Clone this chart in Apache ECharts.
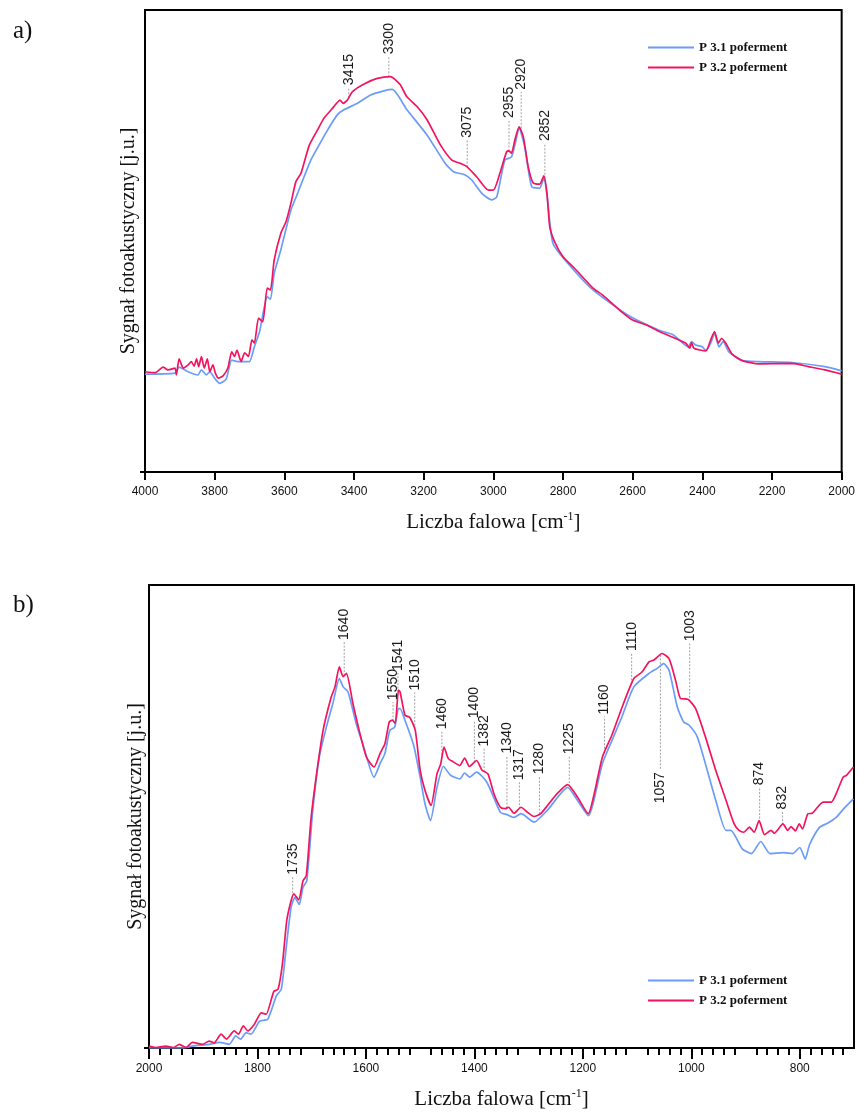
<!DOCTYPE html>
<html>
<head>
<meta charset="utf-8">
<title>Widma fotoakustyczne P 3.1 / P 3.2 poferment</title>
<script src="https://cdn.jsdelivr.net/npm/echarts@6/dist/echarts.min.js"></script>
<style>
  html, body { margin: 0; padding: 0; background: #fff; }
  #chart { width: 858px; height: 1113px; }
</style>
</head>
<body>
<div id="chart"></div>
<script>
// ---- series names ----
const seriesNames = ['P 3.1 poferment', 'P 3.2 poferment'];

// ---- panel a): 4000-2000 cm-1 ----
const topWn31 = [4000,3914,3902,3876,3848,3838,3824,3814,3800,3786,3767,3751,3734,3714,3700,3686,3671,3649,3640,3629,3610,3581,3562,3524,3500,3476,3448,3429,3390,3352,3314,3290,3248,3190,3138,3114,3081,3062,3033,3005,2990,2967,2948,2938,2926,2910,2890,2867,2855,2846,2829,2790,2714,2614,2524,2484,2440,2431,2419,2400,2390,2376,2365,2352,2340,2324,2286,2238,2143,2048,2000];
const topVal31 = [21.2,21.4,22.7,21.7,21.0,22.1,21.0,21.7,20.3,19.2,20.1,24.2,23.9,23.9,23.9,27.1,30.4,37.9,37.4,43.0,48.1,56.7,60.3,67.5,70.8,74.0,77.3,78.4,79.8,81.6,82.5,82.8,78.4,72.9,66.8,65.0,64.3,63.2,60.3,58.9,59.6,67.5,68.2,70.8,74.4,70.4,61.8,61.4,63.6,60.0,49.5,45.5,39.4,34.0,30.7,29.7,27.1,28.2,27.5,27.1,26.3,27.9,30.0,27.1,28.2,26.0,24.2,23.9,23.7,22.8,21.9];

const topWn32 = [4000,3971,3948,3934,3914,3910,3902,3890,3876,3867,3859,3852,3846,3838,3830,3821,3814,3805,3798,3789,3776,3762,3751,3743,3736,3724,3714,3703,3693,3686,3674,3662,3649,3640,3629,3610,3595,3581,3567,3552,3529,3505,3486,3462,3440,3431,3419,3405,3371,3333,3295,3286,3267,3248,3219,3190,3152,3119,3095,3076,3048,3014,3000,2981,2962,2955,2948,2938,2926,2914,2900,2886,2867,2855,2846,2838,2824,2800,2767,2714,2686,2629,2600,2560,2524,2448,2436,2431,2424,2390,2376,2365,2354,2345,2333,2314,2286,2238,2143,2095,2048,2000];
const topVal32 = [21.7,21.5,22.7,22.1,22.5,21.0,24.5,22.5,23.2,23.9,22.9,24.5,22.8,25.0,22.5,24.5,21.7,23.2,21.4,20.3,20.8,22.5,26.0,25.0,26.4,23.9,25.8,25.0,28.6,27.9,33.3,32.5,39.8,39.4,45.9,51.7,54.2,58.2,62.8,64.7,70.6,74.0,76.6,78.7,80.5,79.8,80.5,82.3,84.0,85.2,85.6,85.2,83.8,81.2,79.1,76.2,70.8,67.5,66.8,66.1,63.9,61.0,61.0,64.7,69.3,69.5,69.0,71.9,74.7,72.6,66.1,62.6,62.3,64.1,60.3,53.1,49.8,46.6,44.1,39.8,38.3,34.5,32.9,31.8,30.4,27.9,26.8,28.0,26.8,26.2,28.6,30.4,27.9,28.9,27.9,25.5,24.1,23.4,23.5,22.8,22.1,21.2];

// peak labels of panel a) and the height where each label sits
const topPeaks = [3415, 3300, 3075, 2955, 2920, 2852];
const topPeakLabelAt = [83.3, 90.0, 71.9, 76.2, 82.3, 71.2];

// ---- panel b): 2000-700 cm-1 ----
const botWn31 = [2000,1938,1920,1889,1870,1852,1840,1831,1821,1812,1796,1781,1765,1756,1747,1738,1731,1723,1716,1709,1698,1686,1673,1661,1649,1642,1633,1618,1605,1585,1574,1565,1556,1547,1540,1537,1528,1512,1500,1491,1481,1469,1457,1444,1427,1418,1409,1396,1377,1352,1340,1327,1314,1290,1265,1228,1210,1190,1164,1146,1128,1106,1078,1063,1051,1041,1026,1014,1004,989,974,955,936,927,906,889,872,855,830,813,800,790,782,764,748,733,718,701];
const botVal31 = [0.0,0.0,0.4,0.8,1.2,0.8,2.6,1.9,3.3,3.0,5.8,6.2,11.3,12.7,21.7,30.4,32.5,31.0,34.7,36.1,51.3,62.8,69.3,74.4,79.8,78.0,76.9,70.1,65.4,58.5,61.4,63.6,68.6,69.3,73.3,73.3,70.8,65.4,58.5,52.7,49.1,56.3,60.8,58.9,58.1,59.4,58.5,59.6,57.4,50.9,50.4,49.8,50.6,48.8,51.4,56.3,53.5,50.2,61.4,66.5,71.5,78.0,80.9,82.0,83.0,81.6,73.7,70.4,69.7,67.2,61.4,53.5,47.0,47.0,43.0,42.0,44.6,42.0,42.2,42.0,43.3,40.8,43.9,47.6,48.6,49.8,51.8,53.8];

const botWn32 = [2000,1988,1969,1955,1944,1932,1920,1901,1889,1880,1867,1857,1843,1835,1826,1818,1806,1793,1784,1770,1762,1754,1746,1738,1733,1724,1716,1710,1701,1691,1679,1664,1657,1649,1642,1636,1624,1611,1599,1585,1574,1565,1557,1551,1546,1540,1537,1528,1519,1509,1500,1491,1480,1469,1462,1456,1448,1439,1427,1418,1409,1396,1386,1375,1364,1352,1343,1337,1327,1314,1302,1290,1278,1265,1247,1228,1210,1190,1179,1164,1146,1128,1106,1091,1078,1069,1054,1041,1029,1020,1006,992,974,955,936,921,912,903,893,884,875,865,853,847,831,822,816,808,801,795,785,777,757,742,733,720,714,701];
const botVal32 = [0.4,0.1,0.4,0.1,0.8,0.1,1.2,0.8,1.5,1.1,3.0,1.9,3.7,3.0,4.8,3.7,5.1,7.6,7.3,12.2,12.7,18.1,27.5,31.8,33.3,32.0,36.1,37.2,49.8,59.2,68.6,75.8,78.0,82.3,80.2,80.9,74.4,67.9,62.8,60.7,63.6,65.7,70.4,70.8,70.1,77.3,76.9,71.9,71.4,68.6,60.0,55.6,52.4,59.2,61.4,65.0,62.5,61.8,61.0,62.6,60.8,62.1,60.0,59.2,54.9,52.0,51.7,52.0,50.7,52.0,50.9,50.0,50.6,52.4,55.0,56.9,54.2,50.6,54.9,62.8,67.7,73.5,79.8,81.2,83.4,83.8,85.2,84.1,79.4,75.5,75.3,73.3,67.2,60.0,53.5,48.4,47.0,46.6,47.7,46.6,49.1,46.1,47.0,46.4,48.4,47.0,47.8,46.9,48.4,47.3,50.6,50.7,53.1,53.1,54.9,58.5,58.9,60.7];

// peak labels of panel b) and the height where each label sits (1057 sits below the band)
const botPeaks = [1735, 1640, 1550, 1541, 1510, 1460, 1400, 1382, 1340, 1317, 1280, 1225, 1160, 1110, 1057, 1003, 874, 832];
const botPeakLabelAt = [37.0, 87.7, 74.7, 81.0, 76.8, 68.4, 70.8, 64.7, 63.2, 57.4, 58.7, 63.0, 71.6, 85.3, 60.0, 87.4, 56.3, 51.1];

// ---- tick labels ----
const topTicks = [4000, 3800, 3600, 3400, 3200, 3000, 2800, 2600, 2400, 2200, 2000];
const botTicks = [2000, 1800, 1600, 1400, 1200, 1000, 800];

// ---------------------------------------------------------------
const COLOR_31 = '#6b9cfa';
const COLOR_32 = '#f2155e';
const SERIF = '"Liberation Serif", "Times New Roman", serif';
const SANS = '"Liberation Sans", Arial, sans-serif';

const pairs = (xs, ys) => xs.map((x, i) => [x, ys[i]]);

// value of a spectrum at a wavenumber (used to end a peak marker on the curve)
function valueAt(xs, ys, w) {
  for (let i = 0; i < xs.length - 1; i++) {
    const a = xs[i], b = xs[i + 1];
    if ((w <= a && w >= b) || (w >= a && w <= b)) {
      const t = (w - a) / (b - a);
      return ys[i] + t * (ys[i + 1] - ys[i]);
    }
  }
  return ys[ys.length - 1];
}

function peakData(peaks, labelAt, xs, ys) {
  return peaks.map((w, i) => [w, labelAt[i], valueAt(xs, ys, w)]);
}

function renderPeak(params, api) {
  const w = api.value(0);
  const lab = api.value(1);
  const tip = api.value(2);
  const pLab = api.coord([w, lab]);
  const pTip = api.coord([w, tip]);
  const above = lab > tip;
  return {
    type: 'group',
    children: [
      {
        type: 'line',
        shape: { x1: pTip[0], y1: pTip[1], x2: pLab[0], y2: pLab[1] },
        style: { stroke: '#a0a0a0', lineWidth: 1, lineDash: [2, 1.5] }
      },
      {
        type: 'text',
        x: pLab[0],
        y: pLab[1] + (above ? -2 : 2),
        rotation: Math.PI / 2,
        style: {
          text: String(w),
          font: '14px ' + SANS,
          fill: '#1a1a1a',
          align: above ? 'left' : 'right',
          verticalAlign: 'middle'
        }
      }
    ]
  };
}

function xAxisFor(gridIndex, min, max, ticks, minor) {
  return {
    type: 'value',
    gridIndex: gridIndex,
    inverse: true,
    min: min,
    max: max,
    interval: 200,
    name: 'Liczba falowa [cm{sup|-1}]',
    nameLocation: 'middle',
    nameGap: gridIndex === 0 ? 39 : 40,
    nameTextStyle: {
      fontFamily: SERIF, fontSize: 21, color: '#111',
      rich: { sup: { fontFamily: SERIF, fontSize: 12, color: '#111', verticalAlign: 'top', padding: [0, 0, 10, 0] } }
    },
    axisLine: { show: true, lineStyle: { color: '#000', width: 2 } },
    axisTick: { show: true, inside: false, length: minor ? 11 : 8, lineStyle: { color: '#000', width: 2 },
                customValues: ticks },
    minorTick: { show: minor, splitNumber: 10, length: 7, lineStyle: { color: '#000', width: 2 } },
    axisLabel: { show: true, margin: minor ? 15 : 14, fontFamily: SANS, fontSize: 12, color: '#111',
                 customValues: ticks, formatter: v => String(v) },
    splitLine: { show: false }
  };
}

function yAxisFor(gridIndex, gap) {
  return {
    type: 'value',
    gridIndex: gridIndex,
    min: 0,
    max: 100,
    name: 'Sygnał fotoakustyczny [j.u.]',
    nameLocation: 'middle',
    nameGap: gap,
    nameRotate: 90,
    nameTextStyle: { fontFamily: SERIF, fontSize: 20, color: '#111' },
    axisLine: { show: true, lineStyle: { color: '#000', width: 2 } },
    axisTick: { show: true, length: 5, lineStyle: { color: '#000', width: 2 }, customValues: [0] },
    axisLabel: { show: false },
    splitLine: { show: false }
  };
}

function lineSeries(name, data, color, axisIndex) {
  return {
    type: 'line',
    name: name,
    xAxisIndex: axisIndex,
    yAxisIndex: axisIndex,
    data: data,
    showSymbol: false,
    smooth: 0.2,
    lineStyle: { color: color, width: 1.7 },
    itemStyle: { color: color },
    emphasis: { disabled: true },
    z: 3
  };
}

function legendFor(top) {
  return {
    data: seriesNames,
    orient: 'vertical',
    left: 643,
    top: top,
    icon: 'rect',
    itemWidth: 46,
    itemHeight: 2,
    itemGap: 7,
    textStyle: { fontFamily: SERIF, fontSize: 13, fontWeight: 'bold', color: '#111' },
    selectedMode: false
  };
}

const chart = echarts.init(document.getElementById('chart'), null, { renderer: 'canvas' });

chart.setOption({
  animation: false,
  backgroundColor: '#fff',
  title: [
    { text: 'a)', left: 8, top: 14, textStyle: { fontFamily: SERIF, fontSize: 25, fontWeight: 'normal', color: '#111' } },
    { text: 'b)', left: 8, top: 588, textStyle: { fontFamily: SERIF, fontSize: 25, fontWeight: 'normal', color: '#111' } }
  ],
  legend: [legendFor(36), legendFor(969)],
  grid: [
    { left: 145, top: 10, width: 702, height: 462, show: true, borderColor: '#000', borderWidth: 2, backgroundColor: 'transparent' },
    { left: 149, top: 585, width: 705, height: 463, show: true, borderColor: '#000', borderWidth: 2, backgroundColor: 'transparent' }
  ],
  xAxis: [
    xAxisFor(0, 2000, 4000, topTicks, false),
    xAxisFor(1, 700, 2000, botTicks, true)
  ],
  yAxis: [yAxisFor(0, 6), yAxisFor(1, 3)],
  series: [
    lineSeries(seriesNames[0], pairs(topWn31, topVal31), COLOR_31, 0),
    lineSeries(seriesNames[1], pairs(topWn32, topVal32), COLOR_32, 0),
    lineSeries(seriesNames[0], pairs(botWn31, botVal31), COLOR_31, 1),
    lineSeries(seriesNames[1], pairs(botWn32, botVal32), COLOR_32, 1),
    {
      type: 'custom',
      name: 'peaks a',
      xAxisIndex: 0, yAxisIndex: 0,
      data: peakData(topPeaks, topPeakLabelAt, topWn32, topVal32),
      encode: { x: 0, y: [1, 2] },
      renderItem: renderPeak,
      clip: false,
      silent: true,
      z: 2
    },
    {
      type: 'custom',
      name: 'peaks b',
      xAxisIndex: 1, yAxisIndex: 1,
      data: peakData(botPeaks, botPeakLabelAt, botWn32, botVal32),
      encode: { x: 0, y: [1, 2] },
      renderItem: renderPeak,
      clip: false,
      silent: true,
      z: 2
    }
  ]
});
</script>
</body>
</html>
